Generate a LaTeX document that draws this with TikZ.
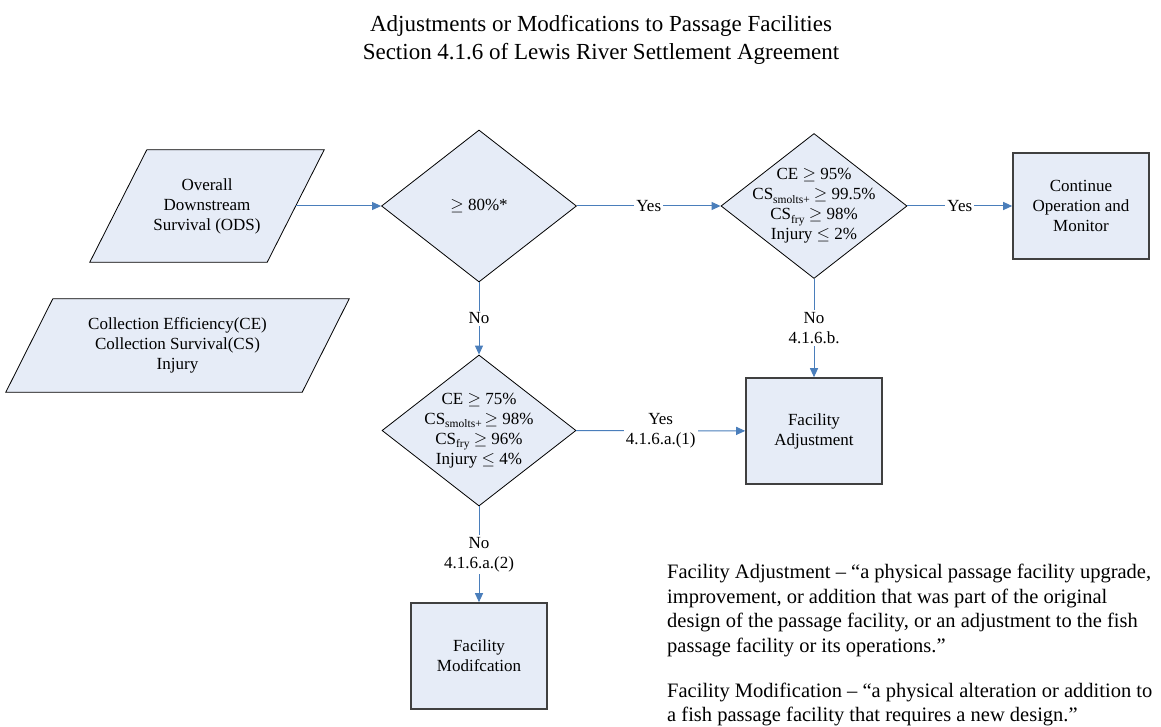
\documentclass[tikz,border=0pt]{standalone}
\usepackage{fontspec}
\setmainfont{Liberation Serif}
\usetikzlibrary{shapes.geometric,arrows.meta}
\pgfdeclarelayer{background}
\pgfsetlayers{background,main}
\definecolor{shapefill}{RGB}{230,236,247}
\definecolor{flowblue}{RGB}{74,126,187}
% small lowered subscript used in the criteria
\newcommand\subsc[1]{\raisebox{-3.5pt}{\fontsize{11.5}{11.5}\selectfont #1}}

\begin{document}
\begin{tikzpicture}[x=1pt,y=-1pt,
  every node/.style={font=\fontsize{17}{20}\selectfont, inner sep=0pt},
  decision/.style={diamond, draw=black, line width=0.8pt, fill=shapefill},
  inputarea/.style={rectangle, align=center},
  slanted/.style={draw=black, line width=0.8pt, fill=shapefill, line join=miter},
  stepbox/.style={rectangle, draw=black!75, line width=1.6pt, fill=shapefill,
    minimum width=136, minimum height=106, align=center},
  flow/.style={draw=flowblue, line width=1pt, -{Triangle[length=9pt,width=8pt]}},
  lbl/.style={fill=white, inner sep=2pt, align=center}
]
\useasboundingbox (0,0) rectangle (1161,727);

% heading
\node[font=\fontsize{23}{28.5}\selectfont, align=center] (title) at (601,40)
  {Adjustments or Modfications to Passage Facilities\\Section 4.1.6 of Lewis River Settlement Agreement};

% inputs (text areas; the slanted outlines are drawn behind them)
\node[inputarea, minimum width=234, minimum height=112] (ods) at (207,206)
  {Overall\\Downstream\\Survival (ODS)};
\node[inputarea, minimum width=343, minimum height=93] (ce) at (177.5,345.5)
  {Collection Efficiency(CE)\\Collection Survival(CS)\\Injury};

\begin{pgfonlayer}{background}
  \fill[white] (0,0) rectangle (1161,727);
  \filldraw[slanted] ([xshift=57pt]ods.north west) -- (ods.north east)
    -- ([xshift=-57pt]ods.south east) -- (ods.south west) -- cycle;
  \filldraw[slanted] ([xshift=47pt]ce.north west) -- (ce.north east)
    -- ([xshift=-47pt]ce.south east) -- (ce.south west) -- cycle;
\end{pgfonlayer}

% decisions
\node[decision, minimum width=195, minimum height=152] (d1) at (479,206) {};
\node (d1txt) at (d1.center) {$\geq$ 80\%*};

\node[decision, minimum width=186, minimum height=145] (d2) at (814,206) {};
\node[align=center] (d2txt) at (d2.center)
  {CE $\geq$ 95\%\\CS\subsc{smolts+} $\geq$ 99.5\%\\CS\subsc{fry} $\geq$ 98\%\\Injury $\leq$ 2\%};

\node[decision, minimum width=194, minimum height=151] (d3) at (479,430.5) {};
\node[align=center] (d3txt) at (d3.center)
  {CE $\geq$ 75\%\\CS\subsc{smolts+}\kern3pt$\geq$ 98\%\\CS\subsc{fry} $\geq$ 96\%\\Injury $\leq$ 4\%};

% outcomes
\node[stepbox] (cont) at (1081,206) {Continue\\Operation and\\Monitor};
\node[stepbox] (adj) at (814,431) {Facility\\Adjustment};
\node[stepbox] (mod) at (479,656) {Facility\\Modifcation};

% connectors
\draw[flow] ([xshift=-28.5pt]ods.east) -- (d1);
\draw[flow] (d1) -- node[lbl] {Yes} (d2);
\draw[flow] (d2) -- node[lbl] {Yes} (cont);
\draw[flow] (d1) -- node[lbl] {No} (d3);
\draw[flow] (d2) -- node[lbl] {No\\4.1.6.b.} (adj);
\draw[flow] (d3) -- node[lbl] {Yes\\4.1.6.a.(1)} (adj);
\draw[flow] (d3) -- node[lbl] {No\\4.1.6.a.(2)} (mod);

% definitions
\node[font=\fontsize{20.5}{24.5}\selectfont, align=left, anchor=north west] (defs) at (667,564)
  {Facility Adjustment – “a physical passage facility upgrade,\\
   improvement, or addition that was part of the original\\
   design of the passage facility, or an adjustment to the fish\\
   passage facility or its operations.”\\[20.5pt]
   Facility Modification – “a physical alteration or addition to\\
   a fish passage facility that requires a new design.”};
\end{tikzpicture}
\end{document}
